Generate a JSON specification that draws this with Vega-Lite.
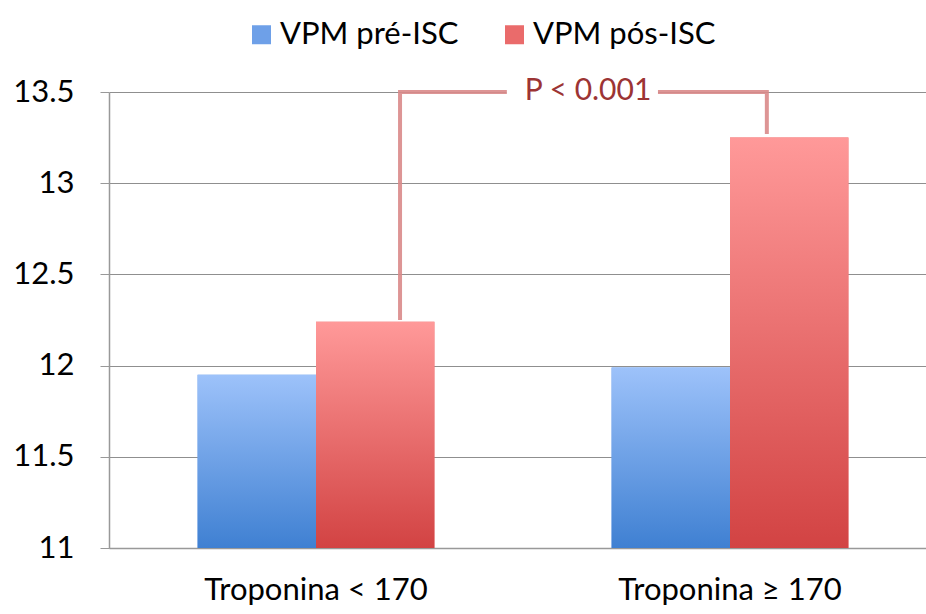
{
  "$schema": "https://vega.github.io/schema/vega-lite/v6.json",
  "width": 828,
  "height": 456,
  "autosize": "none",
  "padding": {"left": 109, "top": 92, "right": 0, "bottom": 66},
  "background": "white",
  "config": {"view": {"stroke": null}, "font": "Lato"},
  "datasets": {
    "bars": [
      {"cat": "Troponina < 170", "serie": "VPM pré-ISC", "vpm": 11.95},
      {"cat": "Troponina < 170", "serie": "VPM pós-ISC", "vpm": 12.24},
      {"cat": "Troponina ≥ 170", "serie": "VPM pré-ISC", "vpm": 11.99},
      {"cat": "Troponina ≥ 170", "serie": "VPM pós-ISC", "vpm": 13.25}
    ],
    "bracket": [
      {"pos": 0.703, "vpm": 12.25, "k": 1},
      {"pos": 0.703, "vpm": 13.5, "k": 2},
      {"pos": 1.589, "vpm": 13.5, "k": 3},
      {"pos": 1.589, "vpm": 13.27, "k": 4}
    ],
    "note": [
      {"pos": 0.961, "pos2": 1.326, "lo": 13.43, "hi": 13.57, "mid": 1.157, "vpm": 13.5, "txt": "P < 0.001"}
    ]
  },
  "layer": [
    {
      "data": {"name": "bars"},
      "encoding": {
        "x": {"field": "cat", "type": "nominal", "sort": null, "title": null,
          "scale": {"paddingInner": 0.428, "paddingOuter": 0.214},
          "axis": {"labelAngle": 0, "labelFontSize": 31, "labelColor": "#000", "labelLimit": 0, "ticks": false, "labelPadding": 27, "domainColor": "#999999", "domainWidth": 1.5}},
        "xOffset": {"field": "serie", "type": "nominal", "sort": ["VPM pré-ISC", "VPM pós-ISC"], "scale": {"domain": ["VPM pré-ISC", "VPM pós-ISC"], "paddingInner": 0, "paddingOuter": 0}},
        "y": {"field": "vpm", "type": "quantitative", "title": null,
          "scale": {"domain": [11, 13.5], "zero": false, "nice": false},
          "axis": {"values": [11, 11.5, 12, 12.5, 13, 13.5], "format": "~g", "grid": true, "gridColor": "#8f8f8f", "gridWidth": 1, "tickColor": "#999999", "tickSize": 9, "domainColor": "#999999", "domainWidth": 1.5, "labelFontSize": 31, "labelColor": "#000", "labelPadding": 26}},
        "y2": {"datum": 11}
      },
      "layer": [
        {
          "mark": {"type": "bar"},
          "encoding": {
            "color": {"field": "serie", "type": "nominal", "title": null,
              "scale": {"domain": ["VPM pré-ISC", "VPM pós-ISC"], "range": ["#6ea0e8", "#ea6b6b"]},
              "legend": {"orient": "none", "legendX": 137, "legendY": -73, "direction": "horizontal", "symbolType": "square", "symbolSize": 361, "symbolStrokeWidth": 0, "labelFontSize": 31, "labelColor": "#000", "labelOffset": 3, "labelLimit": 0, "columnPadding": 40}}
          }
        },
        {
          "transform": [{"filter": "datum.serie === 'VPM pré-ISC'"}],
          "mark": {"type": "bar", "color": {"gradient": "linear", "x1": 0, "y1": 0, "x2": 0, "y2": 1, "stops": [{"offset": 0, "color": "#9dc2fa"}, {"offset": 1, "color": "#3f80d2"}]}}
        },
        {
          "transform": [{"filter": "datum.serie === 'VPM pós-ISC'"}],
          "mark": {"type": "bar", "color": {"gradient": "linear", "x1": 0, "y1": 0, "x2": 0, "y2": 1, "stops": [{"offset": 0, "color": "#ff9999"}, {"offset": 1, "color": "#d24343"}]}}
        }
      ]
    },
    {
      "layer": [
        {
          "data": {"name": "bracket"},
          "mark": {"type": "line", "stroke": "#d98a8a", "strokeWidth": 4, "strokeCap": "butt", "strokeJoin": "miter", "opacity": 0.9},
          "encoding": {
            "x": {"field": "pos", "type": "quantitative", "scale": {"domain": [0, 2], "nice": false, "zero": false}, "axis": null},
            "y": {"field": "vpm", "type": "quantitative", "scale": {"domain": [11, 13.5], "zero": false, "nice": false}},
            "order": {"field": "k"}
          }
        },
        {
          "data": {"name": "note"},
          "mark": {"type": "rect", "color": "white"},
          "encoding": {
            "x": {"field": "pos", "type": "quantitative", "scale": {"domain": [0, 2], "nice": false, "zero": false}, "axis": null},
            "x2": {"field": "pos2"},
            "y": {"field": "lo", "type": "quantitative", "scale": {"domain": [11, 13.5], "zero": false, "nice": false}},
            "y2": {"field": "hi"}
          }
        },
        {
          "data": {"name": "note"},
          "mark": {"type": "text", "fontSize": 30, "color": "#9c3434", "baseline": "middle", "align": "center", "dy": -1},
          "encoding": {
            "x": {"field": "mid", "type": "quantitative", "scale": {"domain": [0, 2], "nice": false, "zero": false}, "axis": null},
            "y": {"field": "vpm", "type": "quantitative", "scale": {"domain": [11, 13.5], "zero": false, "nice": false}},
            "text": {"field": "txt"}
          }
        }
      ]
    }
  ],
  "resolve": {"scale": {"x": "independent"}}
}
